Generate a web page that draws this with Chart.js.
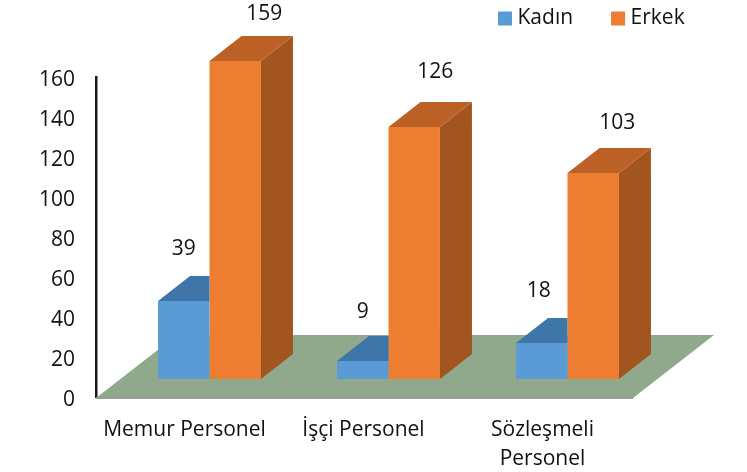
<!DOCTYPE html>
<html>
<head>
<meta charset="utf-8">
<style>html,body{margin:0;padding:0;background:#fff}#wrap{width:747px;height:472px;position:relative}canvas{filter:blur(0.4px)}</style>
<script src="https://cdn.jsdelivr.net/npm/chart.js@4"></script>
</head>
<body>
<div id="wrap"><canvas id="c" width="747" height="472"></canvas></div>
<script>
const categories = [["Memur Personel"], ["İşçi Personel"], ["Sözleşmeli", "Personel"]];
const kadin = [39, 9, 18];
const erkek = [159, 126, 103];
const seriesNames = ["Kadın", "Erkek"];
const yTicks = [0, 20, 40, 60, 80, 100, 120, 140, 160];

const FONT = '"Open Sans", sans-serif';
const FSIZE = 21;
const BAR_SHIFT = { x: 24, y: -18 };
const BAR_DEPTH = { x: 32, y: -25 };
const FLOOR_DEPTH = { x: 81, y: -63 };
const shades = [
  { top: '#3f76a9', side: '#36668f' },
  { top: '#bb6126', side: '#a3551f' }
];
const labelNudge = [
  [{ x: 0, y: -52 }, { x: 0, y: -49 }, { x: -3, y: -52 }],
  [{ x: 29, y: -47 }, { x: 21, y: -55 }, { x: 24, y: -50 }]
];

function poly(ctx, pts, fill) {
  ctx.beginPath();
  pts.forEach((p, i) => i ? ctx.lineTo(p[0], p[1]) : ctx.moveTo(p[0], p[1]));
  ctx.closePath();
  ctx.fillStyle = fill;
  ctx.fill();
}

const threeD = {
  id: 'threeD',
  beforeLayout(chart) {
    const lg = chart.legend;
    if (lg && !lg._patched) {
      const f = lg.fit;
      lg.fit = function () { f.call(this); this.height = 77; };
      lg._patched = true;
    }
  },
  afterLayout(chart) {
    const lg = chart.legend;
    const pad = lg.options.labels.padding;
    lg.left = 503 - pad;
    lg.right = 747;
    lg.top = 8 - pad;
  },
  beforeDatasetsDraw(chart) {
    const { ctx, chartArea: a } = chart;
    const y0 = chart.scales.y.getPixelForValue(0) + 1;
    ctx.save();
    poly(ctx, [[a.left, y0], [a.right, y0], [a.right + FLOOR_DEPTH.x, y0 + FLOOR_DEPTH.y], [a.left + FLOOR_DEPTH.x, y0 + FLOOR_DEPTH.y]], '#90a98c');
    ctx.strokeStyle = '#9a9c98';
    ctx.lineWidth = 2;
    ctx.beginPath();
    ctx.moveTo(a.left, y0);
    ctx.lineTo(a.right, y0);
    ctx.stroke();
    ctx.translate(BAR_SHIFT.x, BAR_SHIFT.y);
  },
  beforeDatasetDraw(chart, args) {
    const { ctx } = chart;
    const s = shades[args.index];
    const d = BAR_DEPTH;
    chart.getDatasetMeta(args.index).data.forEach(b => {
      const l = b.x - b.width / 2, r = b.x + b.width / 2, t = b.y, u = b.base;
      if (args.index === 0) {
        // Kadın stands behind Erkek: only the part of its top left of the next bar shows
        poly(ctx, [[l, t], [r, t], [r, t + d.y], [l + d.x, t + d.y]], s.top);
      } else {
        poly(ctx, [[r, t], [r + d.x, t + d.y], [r + d.x, u + d.y], [r, u]], s.side);
        poly(ctx, [[l, t], [r, t], [r + d.x, t + d.y], [l + d.x, t + d.y]], s.top);
      }
    });
  },
  afterDatasetsDraw(chart) {
    const { ctx } = chart;
    ctx.restore();
    ctx.save();
    ctx.font = FSIZE + 'px ' + FONT;
    ctx.fillStyle = '#111';
    ctx.textAlign = 'center';
    ctx.textBaseline = 'middle';
    chart.data.datasets.forEach((ds, i) => {
      chart.getDatasetMeta(i).data.forEach((b, j) => {
        const n = labelNudge[i][j];
        ctx.fillText(String(ds.data[j]), b.x + BAR_SHIFT.x + n.x, b.y + BAR_SHIFT.y + n.y);
      });
    });
    ctx.restore();
  }
};

new Chart(document.getElementById('c'), {
  type: 'bar',
  data: {
    labels: categories,
    datasets: [
      { label: seriesNames[0], data: kadin, backgroundColor: '#5b9bd5', clip: false },
      { label: seriesNames[1], data: erkek, backgroundColor: '#ed7d31', clip: false }
    ]
  },
  options: {
    responsive: false,
    animation: false,
    events: [],
    devicePixelRatio: 1,
    layout: { padding: { left: 0, right: 114, top: 0, bottom: 0 } },
    datasets: { bar: { categoryPercentage: 0.575, barPercentage: 1, borderWidth: 0 } },
    plugins: {
      tooltip: { enabled: false },
      legend: {
        position: 'top',
        align: 'start',
        labels: {
          boxWidth: 4,
          boxHeight: 4,
          padding: 43,
          color: '#111',
          font: { family: FONT, size: FSIZE },
          generateLabels(chart) {
            return Chart.defaults.plugins.legend.labels.generateLabels(chart).map(it => {
              it.lineWidth = 10;
              it.strokeStyle = it.fillStyle;
              return it;
            });
          }
        }
      }
    },
    scales: {
      x: {
        grid: { display: false },
        border: { display: false },
        ticks: { color: '#111', padding: 11, labelOffset: -1, maxRotation: 0, autoSkip: false, font: { family: FONT, size: FSIZE, lineHeight: 1.37 } },
        afterFit(s) { s.height = 75; }
      },
      y: {
        min: 0,
        max: 160,
        afterBuildTicks(s) { s.ticks = yTicks.map(v => ({ value: v })); },
        grid: { display: false },
        border: { display: true, color: '#1a1a1a', width: 2.5 },
        ticks: { color: '#111', padding: 13, labelOffset: 3, font: { family: FONT, size: FSIZE } },
        afterFit(s) { s.width = 96; }
      }
    }
  },
  plugins: [threeD]
});
</script>
</body>
</html>
